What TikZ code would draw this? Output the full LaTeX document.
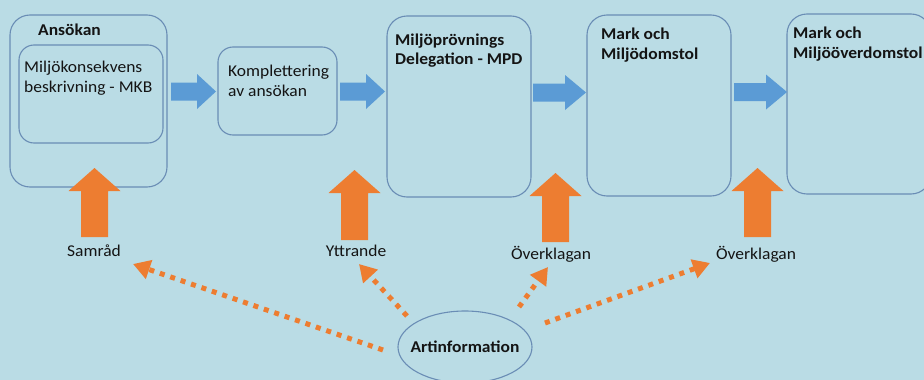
\documentclass[tikz,border=0pt]{standalone}
\usepackage{fontspec}
\setmainfont[FakeStretch=1.06]{Carlito}
\usetikzlibrary{arrows.meta,shapes.geometric}
\definecolor{bg}{HTML}{BADCE5}
\definecolor{edge}{HTML}{6A8DB5}
\definecolor{blu}{HTML}{5B9BD5}
\definecolor{org}{HTML}{ED7D31}
\definecolor{txt}{HTML}{141414}
\newcommand\orangeup[3]{% cx, tip y, bottom y
  \fill[org] (#1-13.5,#3) -- (#1-13.5,#2+23) -- (#1-26,#2+23) -- (#1,#2) -- (#1+26,#2+23) -- (#1+13.5,#2+23) -- (#1+13.5,#3) -- cycle;}
\newcommand\blueright[4]{% x0, head x, tip x, y centre
  \fill[blu] (#1,#4-9) -- (#2,#4-9) -- (#2,#4-17.5) -- (#3,#4) -- (#2,#4+17.5) -- (#2,#4+9) -- (#1,#4+9) -- cycle;}
\tikzset{
  box/.style={draw=edge, line width=1.1pt, rounded corners=20pt, inner sep=0pt},
  sbox/.style={box, rounded corners=15pt},
  boxtext/.style={anchor=north west, inner sep=0pt, align=left, text=txt,
    font=\fontsize{16.5}{19.5}\selectfont},
  label/.style={inner sep=0pt, text=txt, font=\fontsize{16.5}{19.5}\selectfont},
  dotarrow/.style={draw=org, line width=5pt, dash pattern=on 5pt off 6pt,
    -{Triangle[length=17pt,width=19pt]}}
}
\begin{document}
\begin{tikzpicture}[x=1pt,y=-1pt]
\fill[bg] (0,0) rectangle (924,380);
\clip (0,0) rectangle (924,380);
% boxes
\node[box, minimum width=157pt, minimum height=172pt] (ansokan) at (88.5,101) {};
\node[sbox, minimum width=144pt, minimum height=98pt] (mkb) at (91,94) {};
\node[sbox, minimum width=119pt, minimum height=88pt] (kompl) at (277.5,91) {};
\node[box, minimum width=144pt, minimum height=181pt] (mpd) at (459,106.5) {};
\node[box, minimum width=144pt, minimum height=181pt] (mmd) at (659,105.5) {};
\node[box, minimum width=144pt, minimum height=180pt] (mmod) at (859,104) {};
% box texts
\node[boxtext, font=\fontsize{16.5}{19.5}\selectfont\bfseries] (tansokan) at (38,24) {Ansökan};
\node[boxtext] (tmkb) at (24,61) {Miljökonsekvens\\beskrivning - MKB};
\node[boxtext] (tkompl) at (228,65) {Komplettering\\av ansökan};
\node[boxtext, font=\fontsize{16.5}{19}\selectfont\bfseries] (tmpd) at (395,34) {Miljöprövnings\\Delegation - MPD};
\node[boxtext, font=\fontsize{16.5}{20}\selectfont\bfseries] (tmmd) at (601,28) {Mark och\\Miljödomstol};
\node[boxtext, font=\fontsize{16.5}{20}\selectfont\bfseries] (tmmod) at (793,27) {Mark och\\Miljööverdomstol};
% blue flow arrows
\blueright{171}{197}{216}{91.5}
\blueright{340}{366}{385}{91.5}
\blueright{533}{565}{586}{92.5}
\blueright{734}{766}{787}{92}
% orange input arrows
\orangeup{94.5}{168}{237}
\orangeup{354.5}{170}{240}
\orangeup{555.5}{173}{242}
\orangeup{757.5}{168}{237}
% labels
\node[label] (samrad) at (94,251) {Samråd};
\node[label] (yttr) at (356,251) {Yttrande};
\node[label] (ovk1) at (551,254) {Överklagan};
\node[label] (ovk2) at (756,254) {Överklagan};
% Artinformation
\node[draw=edge, line width=1.1pt, ellipse, minimum width=134pt, minimum height=72pt,
      inner sep=0pt] (art) at (465,347) {};
\node[label, font=\fontsize{16.5}{19.5}\selectfont\bfseries] (tart) at (art.center) {Artinformation};
% dotted arrows
\coordinate (s1) at (383,350); \coordinate (e1) at (133,264);
\coordinate (s2) at (407,316); \coordinate (e2) at (359,264);
\coordinate (s3) at (519,307); \coordinate (e3) at (548,267);
\coordinate (s4) at (545,323); \coordinate (e4) at (710,263);
\draw[dotarrow] (s1) -- (e1);
\draw[dotarrow] (s2) -- (e2);
\draw[dotarrow] (s3) -- (e3);
\draw[dotarrow] (s4) -- (e4);
\end{tikzpicture}
\end{document}
